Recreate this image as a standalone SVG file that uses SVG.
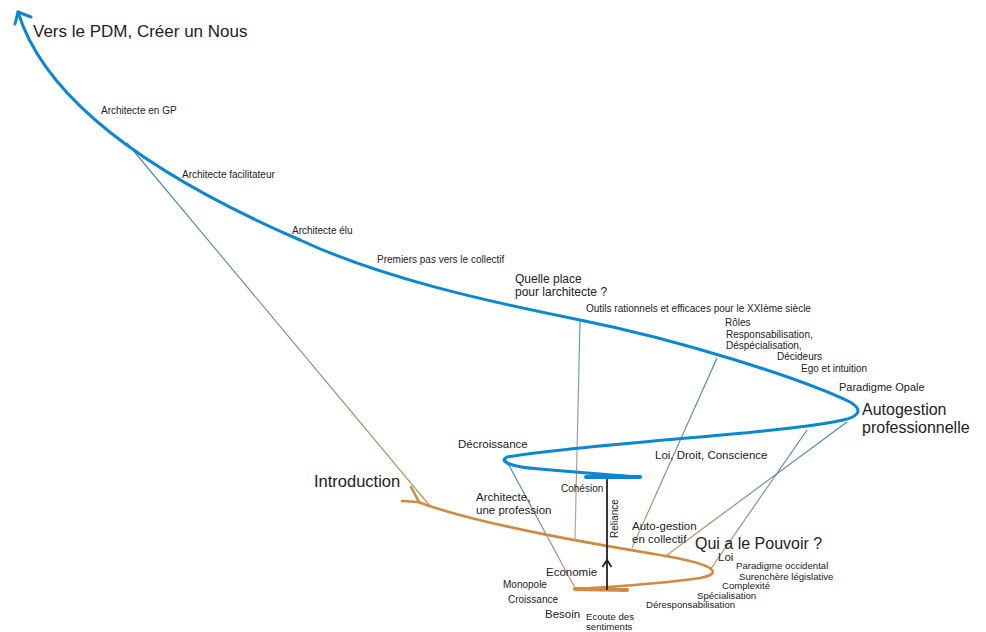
<svg xmlns="http://www.w3.org/2000/svg" width="986" height="632" viewBox="0 0 986 632">
<style>
text{font-family:"Liberation Sans",Arial,sans-serif;fill:#222}
.s{font-size:10px}
.t{font-size:9.6px}
.m{font-size:11.5px}
.l{font-size:16px}
.blue{fill:none;stroke:#0b87d1;stroke-width:3;stroke-linecap:round;stroke-linejoin:round}
.orange{fill:none;stroke:#cf8a44;stroke-width:2.6;stroke-linecap:round;stroke-linejoin:round}
.link{fill:none;stroke-width:1.2}
</style>
<defs>
<linearGradient id="g1" gradientUnits="userSpaceOnUse" x1="127" y1="143" x2="430" y2="505"><stop offset="0" stop-color="#3a8cc4"/><stop offset="1" stop-color="#c9925a"/></linearGradient>
<linearGradient id="g2" gradientUnits="userSpaceOnUse" x1="580" y1="320" x2="575" y2="540"><stop offset="0" stop-color="#5a9ccc"/><stop offset="1" stop-color="#cfa47a"/></linearGradient>
<linearGradient id="g3" gradientUnits="userSpaceOnUse" x1="717" y1="358" x2="632" y2="548"><stop offset="0" stop-color="#3a8cc4"/><stop offset="1" stop-color="#c9925a"/></linearGradient>
<linearGradient id="g4" gradientUnits="userSpaceOnUse" x1="847" y1="422" x2="667" y2="555"><stop offset="0" stop-color="#3a8cc4"/><stop offset="1" stop-color="#c9925a"/></linearGradient>
<linearGradient id="g5" gradientUnits="userSpaceOnUse" x1="807" y1="430" x2="710" y2="570"><stop offset="0" stop-color="#3a8cc4"/><stop offset="1" stop-color="#c9925a"/></linearGradient>
<linearGradient id="g6" gradientUnits="userSpaceOnUse" x1="505" y1="458" x2="575" y2="588"><stop offset="0" stop-color="#3a8cc4"/><stop offset="1" stop-color="#c9925a"/></linearGradient>
</defs>
<rect width="986" height="632" fill="#fff"/>

<g id="connectors">
<line class="link" stroke="url(#g1)" x1="127" y1="143" x2="430" y2="506"/>
<line class="link" stroke="url(#g2)" x1="580" y1="320" x2="575" y2="540"/>
<line class="link" stroke="url(#g3)" x1="717" y1="358" x2="632" y2="548"/>
<line class="link" stroke="url(#g4)" x1="847" y1="422" x2="667" y2="555"/>
<line class="link" stroke="url(#g5)" x1="807" y1="430" x2="710" y2="570"/>
<line class="link" stroke="url(#g6)" x1="505" y1="458" x2="575" y2="588"/>
</g>

<g id="spiral-blue">
<path class="blue" d="M18,12 C45,100 150,175 300,240 C380,277 480,300 580,320 C680,340 800,378 850,402 C862,409 861,416 843,420 C780,434 600,442 507,457 C498,461 510,467 540,469 C575,472 610,475 640,477"/>
<path class="blue" d="M15,24 L18,12 L31,17"/>
<line x1="586" y1="477" x2="640" y2="477" stroke="#0b87d1" stroke-width="4" stroke-linecap="round"/>
</g>

<g id="spiral-orange">
<path class="orange" d="M402,501 L418,502 M411,487 L419,502"/>
<path class="orange" d="M418,502 C480,525 600,545 660,555 C720,565 722,574 700,578 C660,584 610,587 575,589"/>
<line x1="575" y1="589" x2="627" y2="590" stroke="#cf8a44" stroke-width="4" stroke-linecap="round"/>
</g>

<g id="reliance">
<line x1="607" y1="479" x2="607" y2="590" stroke="#222" stroke-width="1.8"/>
<path d="M602.5,567 L607,560 L611.5,567" fill="none" stroke="#222" stroke-width="1.8"/>
<text class="s" transform="translate(618,538) rotate(-90)">Reliance</text>
</g>

<g id="n-vers"><text x="33" y="37" style="font-size:17px">Vers le PDM, Créer un Nous</text></g>
<g id="n-gp"><text class="s" x="101" y="114">Architecte en GP</text></g>
<g id="n-facil"><text class="s" x="182" y="178">Architecte facilitateur</text></g>
<g id="n-elu"><text class="s" x="292" y="234">Architecte élu</text></g>
<g id="n-premiers"><text class="s" x="377" y="263">Premiers pas vers le collectif</text></g>
<g id="n-quelle"><text style="font-size:12px" x="515" y="283">Quelle place</text><text style="font-size:12px" x="515" y="296">pour larchitecte ?</text></g>
<g id="n-outils"><text class="s" x="586" y="312">Outils rationnels et efficaces pour le XXIème siècle</text></g>
<g id="n-roles"><text class="s" x="725" y="326">Rôles</text><text class="s" x="726" y="338">Responsabilisation,</text><text class="s" x="726" y="349">Déspécialisation,</text></g>
<g id="n-decideurs"><text class="s" x="777" y="360">Décideurs</text></g>
<g id="n-ego"><text class="s" x="801" y="372">Ego et intuition</text></g>
<g id="n-opale"><text x="839" y="391" style="font-size:11px">Paradigme Opale</text></g>
<g id="n-autogestion"><text class="l" x="862" y="415">Autogestion</text><text class="l" x="862" y="433">professionnelle</text></g>
<g id="n-decroissance"><text class="m" x="458" y="448">Décroissance</text></g>
<g id="n-loi-droit"><text class="m" x="655" y="459">Loi, Droit, Conscience</text></g>
<g id="n-intro"><text x="314" y="487" style="font-size:16.5px">Introduction</text></g>
<g id="n-profession"><text class="m" x="476" y="501">Architecte,</text><text class="m" x="476" y="514">une profession</text></g>
<g id="n-cohesion"><text class="s" x="561" y="492">Cohésion</text></g>
<g id="n-autogestion-coll"><text class="m" x="632" y="530">Auto-gestion</text><text class="m" x="632" y="543">en collectif</text></g>
<g id="n-pouvoir"><text class="l" x="695" y="549">Qui a le Pouvoir ?</text></g>
<g id="n-loi"><text class="m" x="718" y="561">Loi</text></g>
<g id="n-occidental"><text class="t" x="736" y="569">Paradigme occidental</text></g>
<g id="n-surenchere"><text class="t" x="739" y="580">Surenchère législative</text></g>
<g id="n-complexite"><text class="t" x="722" y="589">Complexité</text></g>
<g id="n-specialisation"><text class="t" x="697" y="599">Spécialisation</text></g>
<g id="n-deresp"><text class="t" x="646" y="608">Déresponsabilisation</text></g>
<g id="n-economie"><text class="m" x="546" y="576">Economie</text></g>
<g id="n-monopole"><text class="s" x="503" y="588">Monopole</text></g>
<g id="n-croissance"><text class="s" x="508" y="603">Croissance</text></g>
<g id="n-besoin"><text class="m" x="545" y="618">Besoin</text></g>
<g id="n-ecoute"><text class="t" x="586" y="620">Ecoute des</text><text class="t" x="586" y="630">sentiments</text></g>
</svg>
